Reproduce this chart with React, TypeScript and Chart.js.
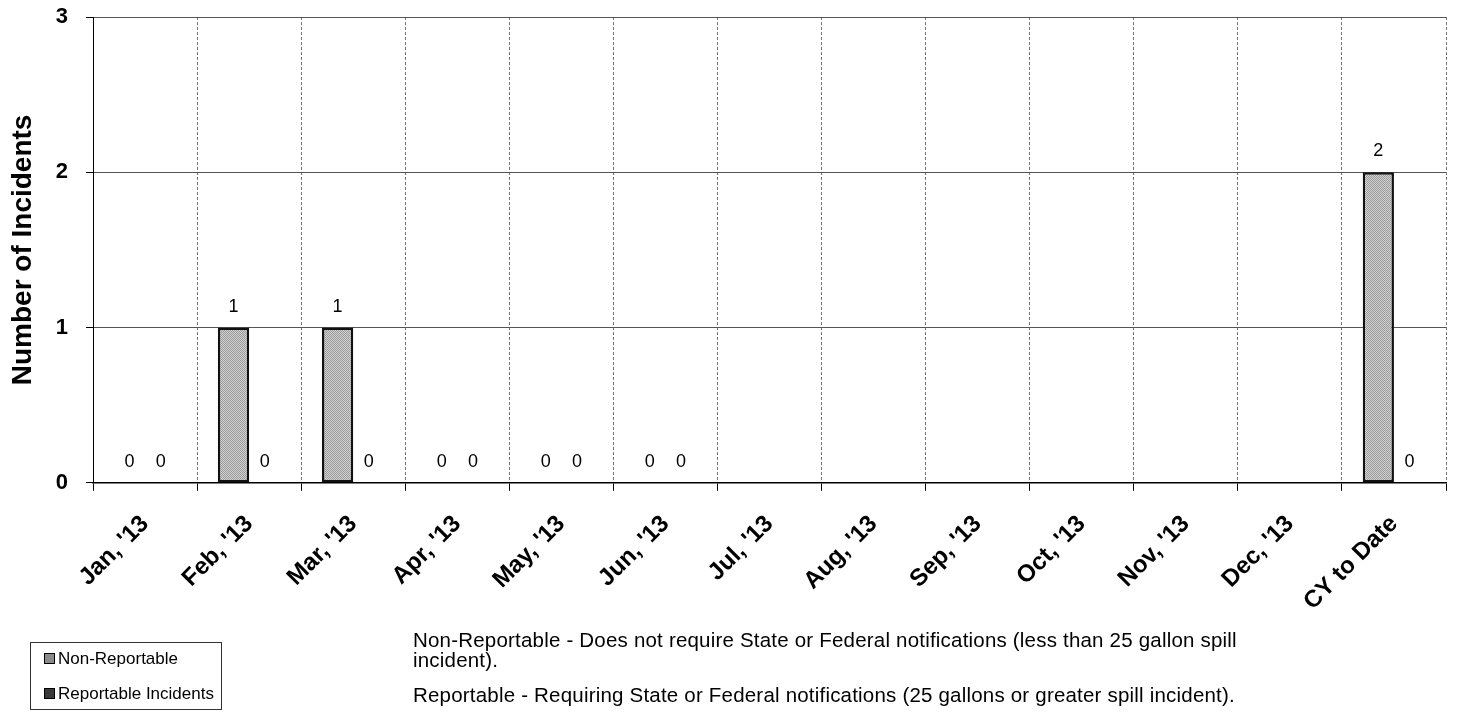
import React, { useEffect, useRef } from "react";
import { Chart, registerables } from "chart.js";

Chart.register(...registerables);

const categories = [
  "Jan, '13", "Feb, '13", "Mar, '13", "Apr, '13", "May, '13", "Jun, '13",
  "Jul, '13", "Aug, '13", "Sep, '13", "Oct, '13", "Nov, '13", "Dec, '13", "CY to Date",
];
const nonReportable = [0, 1, 1, 0, 0, 0, null, null, null, null, null, null, 2];
const reportable = [0, 0, 0, 0, 0, 0, null, null, null, null, null, null, 0];
const seriesNames = ["Non-Reportable", "Reportable Incidents"];
const yAxisTitle = "Number of Incidents";
const yMin = 0;
const yMax = 3;
const noteNonReportable = [
  "Non-Reportable - Does not require State or Federal notifications (less than 25 gallon spill",
  "incident).",
];
const noteReportable = [
  "Reportable - Requiring State or Federal notifications (25 gallons or greater spill incident).",
];

const FONT = "'Liberation Sans', Arial, sans-serif";

function makePattern(light: string, dark: string): CanvasPattern | string {
  const c = document.createElement("canvas");
  c.width = 4;
  c.height = 4;
  const g = c.getContext("2d");
  if (!g) return light;
  g.fillStyle = light;
  g.fillRect(0, 0, 4, 4);
  g.fillStyle = dark;
  for (let y = 0; y < 4; y++) {
    for (let x = 0; x < 4; x++) {
      if ((x + y) % 2 === 0) g.fillRect(x, y, 1, 1);
    }
  }
  return g.createPattern(c, "repeat") || light;
}

const valueLabels = {
  id: "valueLabels",
  afterDatasetsDraw(chart: any) {
    const ctx = chart.ctx;
    ctx.save();
    ctx.font = `18px ${FONT}`;
    ctx.fillStyle = "#000";
    ctx.textAlign = "center";
    ctx.textBaseline = "middle";
    chart.data.datasets.forEach((ds: any, di: number) => {
      const meta = chart.getDatasetMeta(di);
      meta.data.forEach((el: any, i: number) => {
        const v = ds.data[i];
        if (v === null || v === undefined) return;
        ctx.fillText(String(v), el.x, el.y - 21);
      });
    });
    ctx.restore();
  },
};

export default function App() {
  const ref = useRef<HTMLCanvasElement | null>(null);

  useEffect(() => {
    if (!ref.current) return;
    const pattern = makePattern("#d2d2d2", "#9a9a9a");
    const chart = new Chart(ref.current, {
      type: "bar",
      data: {
        labels: categories,
        datasets: [
          {
            label: seriesNames[0],
            data: nonReportable,
            backgroundColor: pattern as any,
            borderColor: "#111",
            borderWidth: 2.5,
            borderSkipped: false,
          },
          {
            label: seriesNames[1],
            data: reportable,
            backgroundColor: "#444",
            borderColor: "#111",
            borderWidth: 0,
          },
        ],
      },
      options: {
        responsive: false,
        animation: false,
        layout: { padding: { left: 6, top: 17, right: 12, bottom: 90 } },
        plugins: {
          legend: { display: false },
          tooltip: { enabled: false },
        },
        datasets: {
          bar: { categoryPercentage: 0.6, barPercentage: 1.0 },
        },
        scales: {
          x: {
            offset: true,
            grid: {
              offset: true,
              color: (c: any) => (c.index === 0 ? "#000" : "#777"),
              lineWidth: 1,
              tickLength: 8,
              tickColor: "#000",
              tickBorderDash: [50, 0],
            },
            border: { display: true, color: "#000", width: 1.5, dash: [3, 2] },
            ticks: {
              color: "#000",
              font: { family: FONT, size: 24, weight: "bold" },
              minRotation: 45,
              maxRotation: 45,
              autoSkip: false,
              padding: 19,
            },
          },
          y: {
            min: yMin,
            max: yMax,
            grid: {
              color: (c: any) => (c.tick && c.tick.value === 0 ? "#000" : "#555"),
              lineWidth: 1,
              tickLength: 22,
              tickColor: "#000",
              tickBorderDash: [0, 15, 7, 100],
            },
            border: { display: true, color: "#000", width: 1 },
            ticks: {
              stepSize: 1,
              color: "#000",
              font: { family: FONT, size: 22, weight: "bold" },
              padding: 3,
            },
            title: {
              display: true,
              text: yAxisTitle,
              color: "#000",
              font: { family: FONT, size: 28, weight: "bold" },
              padding: { top: 0, bottom: 13.2 },
            },
          },
        },
      },
      plugins: [valueLabels],
    });
    return () => chart.destroy();
  }, []);

  const swatch = (bg: string) => ({
    display: "inline-block",
    width: 9,
    height: 9,
    border: "1.5px solid #000",
    background: bg,
    marginRight: 3,
    verticalAlign: "middle",
  });

  return (
    <div style={{ position: "absolute", left: 0, top: 0, width: 1458, height: 725, background: "#fff", fontFamily: FONT }}>
      <canvas ref={ref} width={1458} height={725} style={{ position: "absolute", left: 0, top: 0, width: 1458, height: 725 }} />
      <div
        style={{
          position: "absolute",
          left: 30,
          top: 642,
          width: 192,
          height: 68,
          border: "1px solid #333",
          boxSizing: "border-box",
          fontSize: 17,
          color: "#000",
        }}
      >
        <div style={{ position: "absolute", left: 13, top: 5, whiteSpace: "nowrap" }}>
          <span style={swatch("#8a8a8a")} />
          <span style={{ verticalAlign: "middle" }}>{seriesNames[0]}</span>
        </div>
        <div style={{ position: "absolute", left: 13, top: 40, whiteSpace: "nowrap" }}>
          <span style={swatch("#3a3a3a")} />
          <span style={{ verticalAlign: "middle" }}>{seriesNames[1]}</span>
        </div>
      </div>
      <div
        style={{
          position: "absolute",
          left: 413,
          top: 630,
          fontSize: 20.5,
          lineHeight: "20px",
          letterSpacing: "0.2px",
          color: "#000",
          whiteSpace: "nowrap",
        }}
      >
        {noteNonReportable.map((l, i) => (
          <div key={i}>{l}</div>
        ))}
        <div style={{ marginTop: 15 }}>
          {noteReportable.map((l, i) => (
            <div key={i}>{l}</div>
          ))}
        </div>
      </div>
    </div>
  );
}
